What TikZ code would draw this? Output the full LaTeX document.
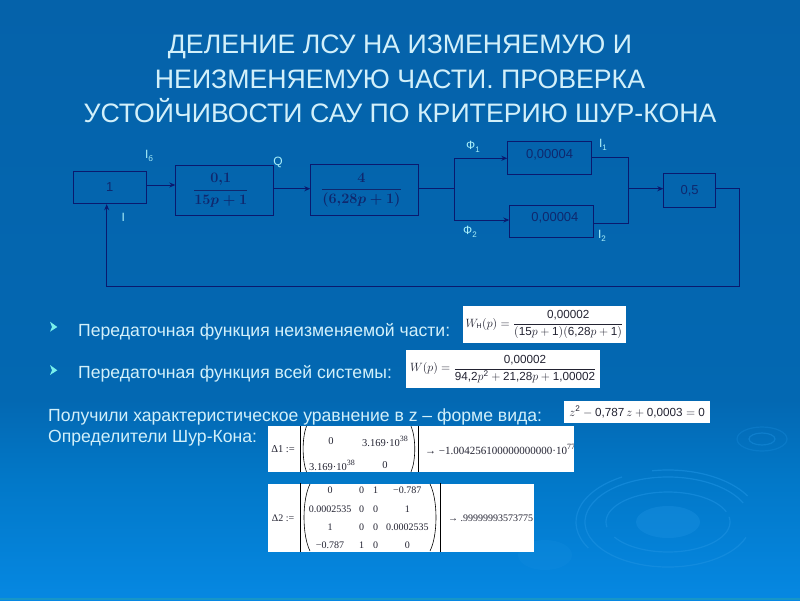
\documentclass[tikz,border=0pt]{standalone}
\usepackage{amsmath}
\usepackage{fontspec}
\setmainfont{Liberation Sans}
\newfontfamily\mcad{Liberation Serif}
\usetikzlibrary{arrows.meta,shadings}
\definecolor{bgA}{RGB}{5,98,170}
\definecolor{bgB}{RGB}{3,104,178}
\definecolor{bgC}{RGB}{2,120,200}
\definecolor{bgD}{RGB}{6,136,226}
\definecolor{stripc}{RGB}{22,150,200}
\definecolor{ripple}{RGB}{28,145,225}
\definecolor{linecol}{RGB}{10,25,110}
\definecolor{txtlight}{RGB}{210,240,250}
\definecolor{lblcol}{RGB}{170,240,250}
\definecolor{bulletc}{RGB}{120,240,235}
\definecolor{boxtxt}{RGB}{15,40,110}
\definecolor{mathc}{RGB}{35,35,50}
\pgfdeclareverticalshading{slidebg}{100bp}{color(0bp)=(bgD); color(25bp)=(bgD); color(35bp)=(bgC); color(41.7bp)=(bgB); color(75bp)=(bgA); color(100bp)=(bgA)}
\newcommand{\dg}[1]{\text{#1}}
\newcommand{\mexp}[1]{\raisebox{5pt}{\fontsize{8}{9}\selectfont #1}}
\newcommand{\bulletmark}[2]{\fill[bulletc] (#1,#2) -- (#1+7.3,#2+5.3) -- (#1,#2+10) -- (#1+2,#2+5.3) -- cycle;}
\tikzset{
  x=1pt,y=-1pt,
  blockbox/.style={draw=linecol,line width=0.9pt,inner sep=0pt,anchor=north west,text=boxtxt,font=\fontsize{13}{15}\selectfont},
  conn/.style={draw=linecol,line width=0.9pt},
  arr/.style={conn,-{Stealth[length=6pt,width=5pt]}},
  sig/.style={text=lblcol,font=\fontsize{12}{14}\selectfont,inner sep=0pt},
  titletxt/.style={text=txtlight,font=\fontsize{26.7}{30}\selectfont,inner sep=0pt},
  bodytxt/.style={text=txtlight,font=\fontsize{17.6}{20}\selectfont,inner sep=0pt,anchor=base west},
  whitebox/.style={fill=white,draw=none,inner sep=0pt,anchor=north west,text=mathc,font=\fontsize{11.7}{14}\selectfont},
  cellA/.style={inner sep=0pt,text=mathc,font=\mcad\fontsize{10.5}{12}\selectfont},
  cellB/.style={inner sep=0pt,text=mathc,font=\mcad\fontsize{10}{12}\selectfont},
  mbar/.style={draw=black,line width=1pt},
  mparen/.style={draw=black,line width=0.6pt},
  ring/.style={draw=ripple,line width=1.2pt,opacity=.6},
}
\newcommand{\blockat}[6]{\node[blockbox,minimum width=#4,minimum height=#5] (#1) at (#2,#3) {#6};}
\begin{document}
\begin{tikzpicture}
\useasboundingbox (0,0) rectangle (800,600);
\path[shading=slidebg] (0,0) rectangle (800,600);
\fill[stripc] (0,597.5) rectangle (800,600);
% ripples
\fill[ripple,opacity=.4] (668,522) ellipse (32 and 16);
\fill[ripple,opacity=.2] (545,555) ellipse (27 and 15);
\draw[ring] ([shift={(668,522)}]20:83 and 45) arc (20:335:83 and 45);
\draw[ring] ([shift={(668,522)}]-10:62 and 30) arc (-10:150:62 and 30);
\draw[ring] ([shift={(668,522)}]170:62 and 30) arc (170:340:62 and 30);
\draw[ring] ([shift={(668,522)}]-30:92 and 52) arc (-30:-100:92 and 52);
\draw[ring] ([shift={(668,522)}]150:92 and 52) arc (150:240:92 and 52);
\draw[ring,opacity=.45] (762,439) ellipse (13 and 6);
\draw[ring,opacity=.3] (762,439) ellipse (25 and 12);

% title
\node[titletxt] (t1) at (400,47) {ДЕЛЕНИЕ ЛСУ НА ИЗМЕНЯЕМУЮ И};
\node[titletxt] (t2) at (400,79) {НЕИЗМЕНЯЕМУЮ ЧАСТИ. ПРОВЕРКА};
\node[titletxt] (t3) at (400,110.5) {УСТОЙЧИВОСТИ САУ ПО КРИТЕРИЮ ШУР-КОНА};

% blocks
\blockat{b1}{72.7}{170.7}{73pt}{32.6pt}{1}
\blockat{b2}{175.3}{165.3}{98pt}{49.4pt}{\hspace*{-8pt}\fontsize{14}{16}\selectfont$\boldsymbol{\dfrac{0{,}1}{15p+1}}$}
\blockat{b3}{310.3}{164.3}{107.4pt}{51pt}{\hspace*{-6pt}\fontsize{14}{16}\selectfont$\boldsymbol{\dfrac{4}{(6{,}28p+1)}}$}
\blockat{b4}{507.3}{141}{83.7pt}{32.7pt}{\raisebox{8pt}{0,00004}}
\blockat{b5}{509.3}{204.7}{83.4pt}{32pt}{\hspace*{7pt}\raisebox{8pt}{0,00004}}
\blockat{b6}{663.3}{173.3}{51.7pt}{33.4pt}{\raisebox{1pt}{0,5}}

\coordinate (split) at (454.3,188.7);
\coordinate (merge) at (628.7,188.7);
\coordinate (upA) at (454.3,158.3);
\coordinate (dnA) at (454.3,220);
\coordinate (upB) at (628.7,157);
\coordinate (dnB) at (628.7,223);
\coordinate (fbR) at (739.7,188.3);
\coordinate (fbC) at (739.7,286.7);
\coordinate (fbL) at (106.7,286.7);

\draw[arr] (b1.east |- 0,185) -- (b2.west |- 0,185);
\draw[arr] (b2.east |- 0,188.7) -- (b3.west |- 0,188.7);
\draw[conn] (b3.east |- split) -- (split);
\draw[arr] (split) -- (upA) -- (b4.west |- upA);
\draw[arr] (split) -- (dnA) -- (b5.west |- dnA);
\draw[conn] (b4.east |- upB) -- (upB) -- (dnB) -- (b5.east |- dnB);
\draw[arr] (merge) -- (b6.west |- merge);
\draw[arr] (b6.east |- fbR) -- (fbR) -- (fbC) -- (fbL) -- (b1.south -| fbL);

% signal labels
\node[sig] (ib) at (149,156) {I\raisebox{-3pt}{\fontsize{8}{9}\selectfont б}};
\node[sig] (q) at (278,162) {Q};
\node[sig] (il) at (123.3,217.5) {I};
\node[sig] (f1) at (473,147) {Ф\raisebox{-3pt}{\fontsize{8}{9}\selectfont 1}};
\node[sig] (i1) at (603,145) {I\raisebox{-3pt}{\fontsize{8}{9}\selectfont 1}};
\node[sig] (f2) at (470,232) {Ф\raisebox{-3pt}{\fontsize{8}{9}\selectfont 2}};
\node[sig] (i2) at (602,236) {I\raisebox{-3pt}{\fontsize{8}{9}\selectfont 2}};

% body text
\bulletmark{50}{321.7}
\bulletmark{50}{365}
\node[bodytxt] (l1) at (78,336) {Передаточная функция неизменяемой части:};
\node[bodytxt] (l2) at (78,378) {Передаточная функция всей системы:};
\node[bodytxt] (l3) at (48,421) {Получили характеристическое уравнение в z – форме вида:};
\node[bodytxt] (l4) at (48,442) {Определители Шур-Кона:};

% formulas
\node[whitebox,minimum width=163pt,minimum height=36.7pt] (e1) at (462.7,306) {$W_{\text{\fontsize{7}{8}\selectfont Н}}(p)=\dfrac{\dg{0,00002}}{(\dg{15}p+\dg{1})(\dg{6,28}p+\dg{1})}$};
\node[whitebox,minimum width=194pt,minimum height=37.7pt] (e2) at (406,350) {$W(p)=\dfrac{\dg{0,00002}}{\dg{94,2}p^{\dg{2}}+\dg{21,28}p+\dg{1,00002}}$};
\node[whitebox,minimum width=146pt,minimum height=21.3pt] (e3) at (564,401) {$z^{\dg{2}}-\dg{0,787}\,z+\dg{0,0003}=\dg{0}$};

% first determinant
\node[whitebox,minimum width=305.3pt,minimum height=45.7pt] (m1) at (268,426) {};
\begin{scope}
\clip (m1.north west) rectangle (m1.south east);
\draw[mbar] (300,426) -- (300,471.7);
\draw[mbar] (418.3,426) -- (418.3,471.7);
\draw[mparen] (306.5,426) .. controls (302,438) and (302,460) .. (306.5,472);
\draw[mparen] (411,426) .. controls (416,438) and (416,460) .. (411,472);
\node[cellA] (m1d) at (283,449.5) {Δ1 :=};
\node[cellA] (m1a) at (331,441.5) {0};
\node[cellA] (m1b) at (385,441.5) {3.169·10\mexp{38}};
\node[cellA] (m1c) at (332,465) {3.169·10\mexp{38}};
\node[cellA] (m1e) at (385,465) {0};
\node[cellA,anchor=west,font=\mcad\fontsize{11}{12}\selectfont] (m1r) at (425,449) {→ −1.004256100000000000·10\mexp{77}};
\end{scope}

% second determinant
\node[whitebox,minimum width=266pt,minimum height=68.4pt] (m2) at (268,483.3) {};
\begin{scope}
\clip (m2.north west) rectangle (m2.south east);
\draw[mbar] (300,483.3) -- (300,551.7);
\draw[mbar] (440,483.3) -- (440,551.7);
\draw[mparen] (310,484) .. controls (302,500) and (302,535) .. (310,551);
\draw[mparen] (430,484) .. controls (438,500) and (438,535) .. (430,551);
\node[cellB] (m2d) at (283,518.3) {Δ2 :=};
\node[cellB] (a11) at (330,490) {0};
\node[cellB] (a12) at (361.7,490) {0};
\node[cellB] (a13) at (375.7,490) {1};
\node[cellB] (a14) at (407.3,490) {−0.787};
\node[cellB] (a21) at (330,509.3) {0.0002535};
\node[cellB] (a22) at (361.7,509.3) {0};
\node[cellB] (a23) at (375.7,509.3) {0};
\node[cellB] (a24) at (407.3,509.3) {1};
\node[cellB] (a31) at (330,527.3) {1};
\node[cellB] (a32) at (361.7,527.3) {0};
\node[cellB] (a33) at (375.7,527.3) {0};
\node[cellB] (a34) at (407.3,527.3) {0.0002535};
\node[cellB] (a41) at (330,545) {−0.787};
\node[cellB] (a42) at (361.7,545) {1};
\node[cellB] (a43) at (375.7,545) {0};
\node[cellB] (a44) at (407.3,545) {0};
\node[cellB,anchor=west] (m2r) at (448,518) {→ .99999993573775};
\end{scope}
\end{tikzpicture}
\end{document}
